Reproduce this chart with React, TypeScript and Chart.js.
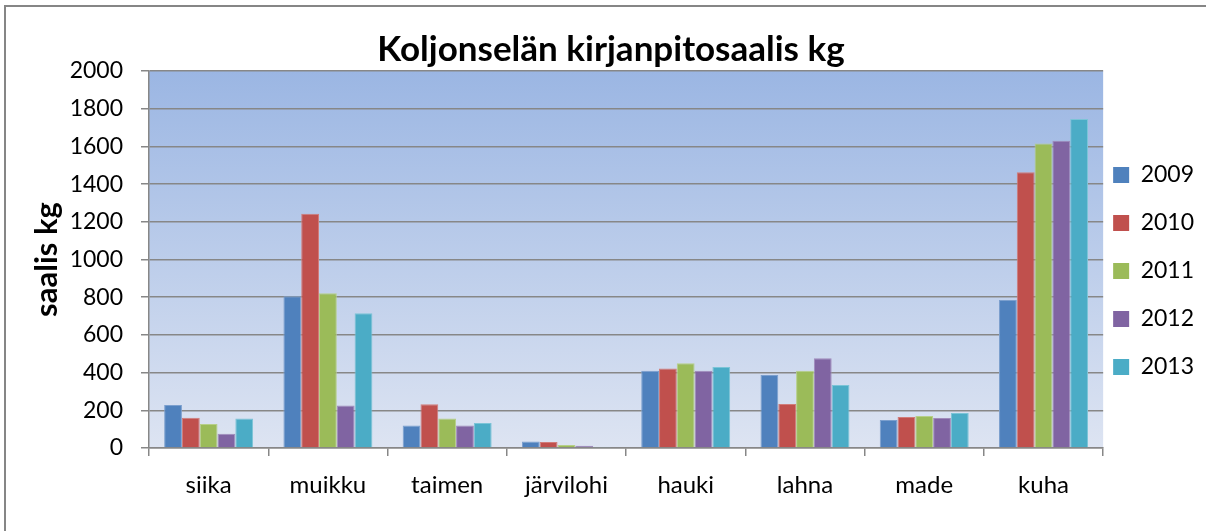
import React, { useEffect, useRef } from "react";
import { Chart, registerables } from "chart.js";

Chart.register(...registerables);

const categories = ["siika", "muikku", "taimen", "järvilohi", "hauki", "lahna", "made", "kuha"];
const seriesLabels = ["2009", "2010", "2011", "2012", "2013"];
const values2009 = [228, 805, 120, 35, 410, 387, 149, 785];
const values2010 = [161, 1243, 232, 32, 422, 233, 164, 1463];
const values2011 = [127, 821, 157, 16, 449, 410, 170, 1616];
const values2012 = [76, 225, 120, 12, 410, 476, 159, 1630];
const values2013 = [157, 715, 133, 3, 430, 334, 186, 1745];
const seriesColors = ["#4F81BD", "#C0504D", "#9BBB59", "#8064A2", "#4BACC6"];
const seriesBorders = ["#7B9FCE", "#D17C79", "#B6CF88", "#A08BBB", "#7BC4D7"];
const yMin = 0;
const yMax = 2000;
const yStep = 200;

const titleText = "Koljonselän kirjanpitosaalis kg";
const yTitleText = "saalis kg";

const GRID = "#878787";
const FONT = "Lato";

const PAD_L = 18;
const PAD_R = 2;
const PAD_T = 29;
const PAD_B = 3;

const bgPlugin = {
  id: "bgPlugin",
  beforeDraw(chart: any) {
    const { ctx, chartArea, width, height } = chart;
    ctx.save();
    ctx.fillStyle = "#ffffff";
    ctx.fillRect(0, 0, width, height);
    ctx.strokeStyle = "#868686";
    ctx.lineWidth = 2;
    ctx.strokeRect(5, 6, width + 10, height + 10);
    const g = ctx.createLinearGradient(0, chartArea.top, 0, chartArea.bottom);
    g.addColorStop(0, "#9BB6E3");
    g.addColorStop(1, "#DDE4F2");
    ctx.fillStyle = g;
    ctx.fillRect(chartArea.left, chartArea.top, chartArea.right - chartArea.left, chartArea.bottom - chartArea.top);
    ctx.restore();
  },
};

export default function App() {
  const ref = useRef<HTMLCanvasElement | null>(null);
  useEffect(() => {
    if (!ref.current) return;
    const allValues = [values2009, values2010, values2011, values2012, values2013];
    const chart = new Chart(ref.current, {
      type: "bar",
      data: {
        labels: categories,
        datasets: seriesLabels.map((label, i) => ({
          label,
          data: allValues[i],
          backgroundColor: seriesColors[i],
          borderColor: seriesBorders[i],
          borderWidth: 1,
          categoryPercentage: 0.746,
          barPercentage: 1.0,
        })),
      },
      options: {
        animation: false,
        responsive: false,
        maintainAspectRatio: false,
        devicePixelRatio: 1,
        layout: { padding: { top: PAD_T, left: PAD_L, right: PAD_R, bottom: PAD_B } },
        plugins: {
          tooltip: { enabled: false },
          title: {
            display: true,
            text: titleText,
            color: "#000",
            font: { family: FONT, size: 35, weight: "bold" },
            padding: { top: 0, bottom: 0 },
          },
          legend: {
            position: "right",
            labels: {
              color: "#000",
              font: { family: FONT, size: 23, lineHeight: "38px" as any },
              boxWidth: 16,
              boxHeight: 16,
              padding: 10,
              generateLabels: (c: any) =>
                Chart.defaults.plugins.legend.labels.generateLabels(c).map((l: any) => ({
                  ...l,
                  text: [l.text],
                  lineWidth: 0,
                  strokeStyle: "rgba(0,0,0,0)",
                })),
            },
          },
        },
        scales: {
          x: {
            afterFit: (s: any) => {
              s.height = 531 - PAD_B - 448;
            },
            grid: {
              display: true,
              drawOnChartArea: false,
              drawTicks: true,
              tickLength: 8,
              color: GRID,
              lineWidth: 1.5,
              offset: true,
            },
            border: { display: true, color: GRID, width: 1.5 },
            ticks: {
              color: "#000",
              font: { family: FONT, size: 24 },
              padding: 15,
              maxRotation: 0,
            },
          },
          y: {
            min: yMin,
            max: yMax,
            afterFit: (s: any) => {
              s.width = 149 - PAD_L;
            },
            grid: {
              color: GRID,
              lineWidth: 1.5,
              drawTicks: true,
              tickLength: 8,
            },
            border: { display: true, color: GRID, width: 1.5 },
            ticks: {
              stepSize: yStep,
              color: "#000",
              font: { family: FONT, size: 23 },
              padding: 18,
              callback: (v: any) => String(v),
            },
            title: {
              display: true,
              text: yTitleText,
              color: "#000",
              font: { family: FONT, size: 31, weight: "bold", lineHeight: "58px" as any },
              padding: { top: 0, bottom: 0 },
            },
          },
        },
      },
      plugins: [bgPlugin],
    });
    return () => chart.destroy();
  }, []);
  return (
    <div style={{ position: "absolute", left: 0, top: 0, width: 1206, height: 531 }}>
      <canvas ref={ref} width={1206} height={531} style={{ width: 1206, height: 531, display: "block" }} />
    </div>
  );
}
